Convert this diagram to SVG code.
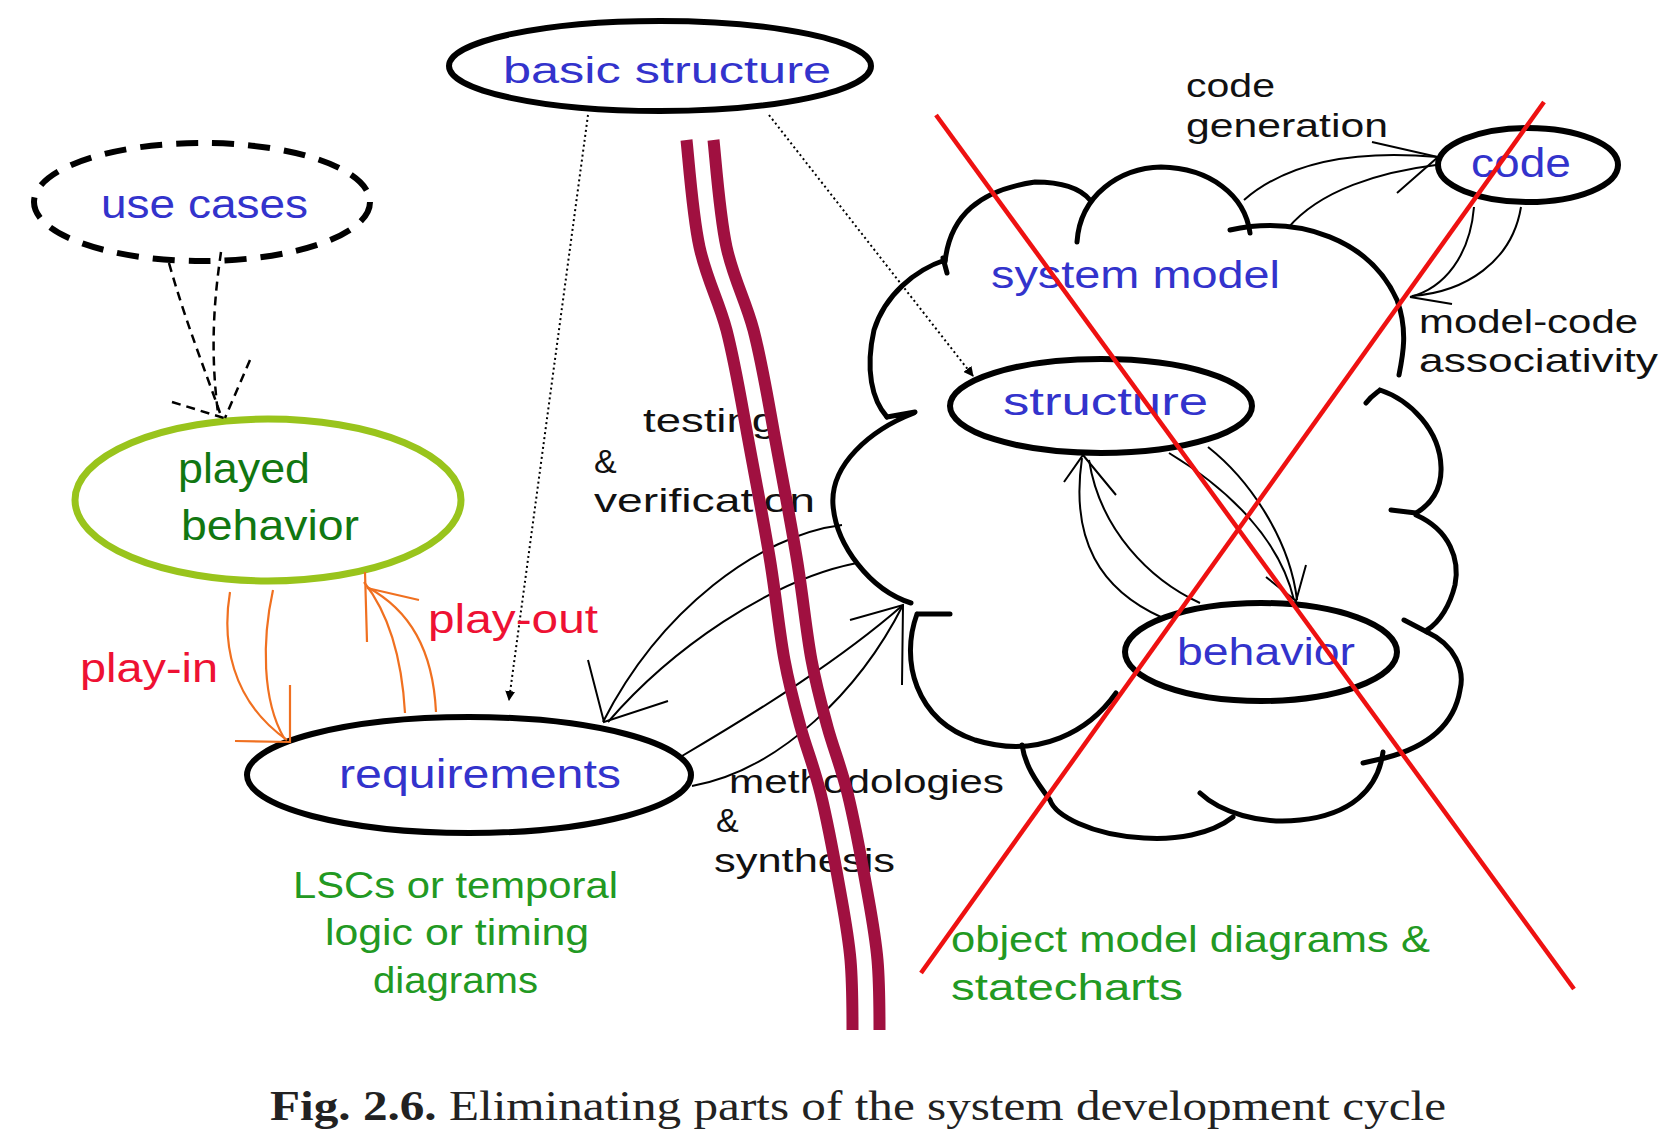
<svg xmlns="http://www.w3.org/2000/svg" width="1670" height="1136" viewBox="0 0 1670 1136">
<style>
.t{font-family:"Liberation Sans","DejaVu Sans",sans-serif;}
.blue{fill:#3333cc;}
.blk{fill:#111;}
.dg{fill:#117711;}
.lg{fill:#229922;}
.red{fill:#ee1133;}
.ell{fill:none;stroke:#000;stroke-width:6;}
.thin{fill:none;stroke:#000;stroke-width:2;}
.org{fill:none;stroke:#f07020;stroke-width:2.2;}
.cloud{fill:none;stroke:#000;stroke-width:5;stroke-linecap:round;}
.bar{fill:none;stroke:#a01040;stroke-width:12;}
</style>
<defs>
<marker id="fa" markerWidth="10" markerHeight="10" refX="9" refY="5" orient="auto" markerUnits="userSpaceOnUse" viewBox="0 0 10 10">
<path d="M0,0 L10,5 L0,10 z" fill="#000"/>
</marker>
</defs>
<rect width="1670" height="1136" fill="#fff"/>

<g id="system-model-cloud">
<path class="cloud" d="M945 262 C950 215 980 190 1035 182 C1060 182 1080 188 1090 200"/>
<path class="cloud" d="M1077 242 C1080 195 1120 168 1161 167 C1210 168 1245 195 1250 233"/>
<path class="cloud" d="M1230 230 C1300 215 1370 240 1397 300 C1408 330 1403 355 1399 375"/>
<path class="cloud" d="M1366 403 C1372 395 1378 392 1380 390 C1410 400 1440 430 1441 467 C1442 490 1430 505 1416 513 M1391 510 L1416 513"/>
<path class="cloud" d="M1416 515 C1450 530 1460 560 1455 585 C1450 605 1440 622 1427 630 M1404 620 L1427 632"/>
<path class="cloud" d="M1427 632 C1455 645 1465 670 1460 690 C1455 720 1435 745 1385 758 M1363 763 L1385 758"/>
<path class="cloud" d="M1383 752 C1378 790 1350 815 1300 820 C1260 825 1220 812 1200 793"/>
<path class="cloud" d="M1233 817 C1210 835 1175 840 1144 838 C1090 835 1055 815 1050 800 C1035 780 1025 765 1022 745"/>
<path class="cloud" d="M917 614 C900 660 915 720 975 740 C1040 760 1090 730 1116 693 M917 614 L950 614"/>
<path class="cloud" d="M914 413 C870 430 830 465 833 505 C836 545 870 590 911 603 M887 417 L915 412"/>
<path class="cloud" d="M945 260 C915 270 885 295 874 330 C865 370 872 400 887 417 M943 258 L947 273"/>
</g>

<g id="node-basic-structure">
<ellipse class="ell" cx="660" cy="66" rx="211" ry="45" stroke-width="7"/>
<text class="t blue" x="503" y="83" font-size="36" textLength="328" lengthAdjust="spacingAndGlyphs">basic structure</text>
</g>

<g id="node-use-cases">
<ellipse cx="202" cy="202" rx="168" ry="59" fill="none" stroke="#000" stroke-width="6" stroke-dasharray="22 14"/>
<text class="t blue" x="101" y="218" font-size="40" textLength="207" lengthAdjust="spacingAndGlyphs">use cases</text>
</g>

<g id="node-played-behavior">
<ellipse cx="268" cy="500" rx="193" ry="81" fill="none" stroke="#99c41c" stroke-width="7"/>
<text class="t dg" x="178" y="483" font-size="42" textLength="132" lengthAdjust="spacingAndGlyphs">played</text>
<text class="t dg" x="181" y="540" font-size="42" textLength="178" lengthAdjust="spacingAndGlyphs">behavior</text>
</g>

<g id="node-requirements">
<ellipse class="ell" cx="469" cy="775" rx="222" ry="58" stroke-width="7"/>
<text class="t blue" x="339" y="788" font-size="40" textLength="282" lengthAdjust="spacingAndGlyphs">requirements</text>
<text class="t lg" x="293" y="898" font-size="36" textLength="325" lengthAdjust="spacingAndGlyphs">LSCs or temporal</text>
<text class="t lg" x="325" y="945" font-size="36" textLength="264" lengthAdjust="spacingAndGlyphs">logic or timing</text>
<text class="t lg" x="373" y="993" font-size="36" textLength="165" lengthAdjust="spacingAndGlyphs">diagrams</text>
</g>

<g id="node-system-model">
<text class="t blue" x="991" y="288" font-size="38" textLength="289" lengthAdjust="spacingAndGlyphs">system model</text>
<text class="t lg" x="951" y="952" font-size="36" textLength="479" lengthAdjust="spacingAndGlyphs">object model diagrams &amp;</text>
<text class="t lg" x="951" y="1000" font-size="36" textLength="232" lengthAdjust="spacingAndGlyphs">statecharts</text>
</g>

<g id="node-structure">
<ellipse class="ell" cx="1101" cy="406" rx="151" ry="47"/>
<text class="t blue" x="1003" y="415" font-size="38" textLength="205" lengthAdjust="spacingAndGlyphs">structure</text>
</g>

<g id="node-behavior">
<ellipse class="ell" cx="1261" cy="652" rx="136" ry="49"/>
<text class="t blue" x="1177" y="665" font-size="38" textLength="178" lengthAdjust="spacingAndGlyphs">behavior</text>
</g>

<g id="node-code">
<ellipse class="ell" cx="1528" cy="165" rx="90" ry="37"/>
<text class="t blue" x="1471" y="177" font-size="40" textLength="100" lengthAdjust="spacingAndGlyphs">code</text>
</g>

<g id="connectors">
<path d="M169 263 C185 320 205 370 220 413" fill="none" stroke="#000" stroke-width="2.5" stroke-dasharray="9 6"/>
<path d="M221 252 C214 300 210 350 218 413" fill="none" stroke="#000" stroke-width="2.5" stroke-dasharray="9 6"/>
<path d="M172 402 L224 418 M250 360 L225 418" fill="none" stroke="#000" stroke-width="2.5" stroke-dasharray="9 6"/>
<path d="M588 115 L509 700" fill="none" stroke="#000" stroke-width="2" stroke-dasharray="2 3" marker-end="url(#fa)"/>
<path d="M769 115 L973 376" fill="none" stroke="#000" stroke-width="2" stroke-dasharray="2 3" marker-end="url(#fa)"/>
<path class="org" d="M230 592 C222 640 230 700 287 740"/>
<path class="org" d="M273 590 C262 640 262 700 284 738"/>
<path class="org" d="M290 685 L290 742 L235 741"/>
<path class="org" d="M405 713 C402 660 390 615 364 582"/>
<path class="org" d="M436 712 C433 650 410 610 367 587"/>
<path class="org" d="M367 642 L365 572 M419 600 L367 588"/>
<path class="thin" d="M842 525 C760 535 660 610 603 722"/>
<path class="thin" d="M857 563 C770 580 670 650 608 722"/>
<path class="thin" d="M588 660 L604 722 L668 701"/>
<path class="thin" d="M682 756 C760 710 840 660 903 605"/>
<path class="thin" d="M692 786 C780 770 860 690 903 605"/>
<path class="thin" d="M850 620 L903 605 L902 685"/>
<path class="thin" d="M1163 618 C1100 590 1070 540 1082 458"/>
<path class="thin" d="M1200 603 C1150 580 1100 530 1089 460"/>
<path class="thin" d="M1064 482 L1083 455 L1116 495"/>
<path class="thin" d="M1169 453 C1230 490 1280 540 1294 600"/>
<path class="thin" d="M1208 447 C1250 480 1290 540 1297 600"/>
<path class="thin" d="M1266 577 L1296 601 L1306 565"/>
<path class="thin" d="M1244 200 C1290 160 1360 150 1438 157"/>
<path class="thin" d="M1288 228 C1320 190 1380 172 1436 165"/>
<path class="thin" d="M1372 142 L1438 157 L1397 193"/>
<path class="thin" d="M1474 207 C1470 255 1445 288 1410 297"/>
<path class="thin" d="M1521 207 C1512 262 1465 292 1412 296"/>
<path class="thin" d="M1410 297 L1452 304"/>
</g>

<g id="labels">
<text class="t red" x="80" y="682" font-size="40" textLength="138" lengthAdjust="spacingAndGlyphs">play-in</text>
<text class="t red" x="428" y="633" font-size="40" textLength="170" lengthAdjust="spacingAndGlyphs">play-out</text>
<text class="t blk" x="643" y="432" font-size="34" textLength="134" lengthAdjust="spacingAndGlyphs">testing</text>
<text class="t blk" x="594" y="473" font-size="34">&amp;</text>
<text class="t blk" x="594" y="512" font-size="34" textLength="221" lengthAdjust="spacingAndGlyphs">verification</text>
<text class="t blk" x="729" y="793" font-size="34" textLength="275" lengthAdjust="spacingAndGlyphs">methodologies</text>
<text class="t blk" x="716" y="832" font-size="34">&amp;</text>
<text class="t blk" x="714" y="872" font-size="34" textLength="181" lengthAdjust="spacingAndGlyphs">synthesis</text>
<text class="t blk" x="1186" y="97" font-size="34" textLength="89" lengthAdjust="spacingAndGlyphs">code</text>
<text class="t blk" x="1186" y="137" font-size="34" textLength="202" lengthAdjust="spacingAndGlyphs">generation</text>
<text class="t blk" x="1419" y="333" font-size="34" textLength="219" lengthAdjust="spacingAndGlyphs">model-code</text>
<text class="t blk" x="1419" y="372" font-size="34" textLength="239" lengthAdjust="spacingAndGlyphs">associativity</text>
</g>

<g id="barrier">
<path class="bar" d="M686.5 140 C688.5 158 692.5 215 699.5 247 C706.5 279 718.5 300 726.5 330 C734.5 361 739.5 391 746.5 430 C753.5 469 764.5 525 770.5 563 C776.5 601 779.5 633 784.5 660 C789.5 687 794.5 705 800.5 727 C806.5 749 813.5 765 820.5 793 C827.5 821 835.5 865 840.5 893 C845.5 921 848.5 937 850.5 960 C852.5 983 852.5 1018 852.5 1030"/>
<path class="bar" d="M713.5 140 C715.5 158 719.5 215 726.5 247 C733.5 279 745.5 300 753.5 330 C761.5 361 766.5 391 773.5 430 C780.5 469 791.5 525 797.5 563 C803.5 601 806.5 633 811.5 660 C816.5 687 821.5 705 827.5 727 C833.5 749 840.5 765 847.5 793 C854.5 821 862.5 865 867.5 893 C872.5 921 875.5 937 877.5 960 C879.5 983 879.5 1018 879.5 1030"/>
</g>

<g id="cross">
<line x1="936" y1="115" x2="1574" y2="989" stroke="#ee1111" stroke-width="4.5"/>
<line x1="1544" y1="102" x2="921" y2="973" stroke="#ee1111" stroke-width="4.5"/>
</g>

<text x="270" y="1120" font-family="Liberation Serif,serif" font-size="42" fill="#222" textLength="1176" lengthAdjust="spacingAndGlyphs"><tspan font-weight="bold">Fig. 2.6.</tspan> Eliminating parts of the system development cycle</text>
</svg>
